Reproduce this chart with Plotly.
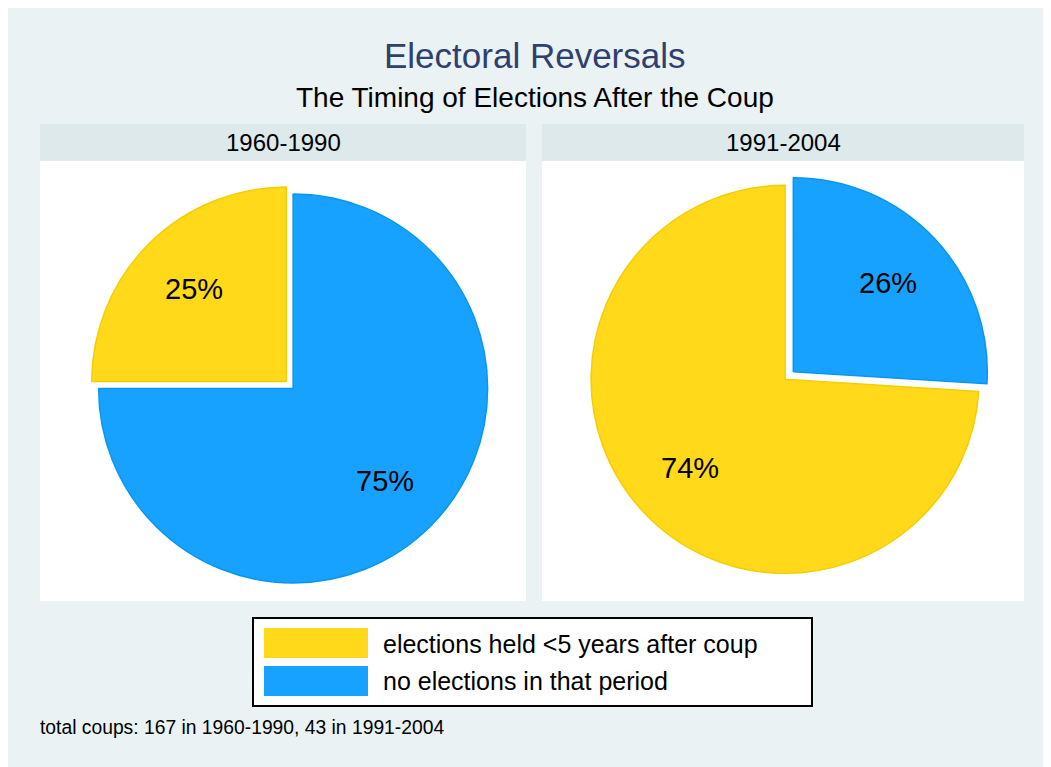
import numpy as np
import plotly.graph_objects as go

# ---- data ----
categories = ["elections held <5 years after coup", "no elections in that period"]
periods = ["1960-1990", "1991-2004"]
pct_1960_1990 = [25, 75]
pct_1991_2004 = [74, 26]
title_text = "Electoral Reversals"
subtitle_text = "The Timing of Elections After the Coup"
note_text = "total coups: 167 in 1960-1990, 43 in 1991-2004"

# ---- style / geometry (page pixels) ----
PAGE_OFF = 8                      # default body margin of the html page
W, H = 1051 - PAGE_OFF, 767 - PAGE_OFF
FONT = "Liberation Sans, Arial, Helvetica, sans-serif"
BG = "#EAF2F3"
STRIP = "#DDE9EB"
fills = ["#FFD91A", "#18A2FF"]
lines = ["#F5CE00", "#0A96F0"]


def px(x):
    return (x - PAGE_OFF) / W


def py(y):
    return 1 - (y - PAGE_OFF) / H


fig = go.Figure()

# (values, centre x, centre y, radius, pull)
pie_specs = [
    (pct_1960_1990, 289.7, 385.0, 194.5, 0.025),
    (pct_1991_2004, 789.2, 375.5, 194.0, 0.029),
]
annotations = []
for vals, cx, cy, r, pull in pie_specs:
    half = r * (1 + pull)
    frac = np.array(vals, dtype=float) / np.sum(vals)
    # first slice ends at 12 o'clock (it lies counter-clockwise from 12)
    rot = -float(frac[0]) * 360.0
    fig.add_trace(go.Pie(
        labels=categories,
        values=vals,
        sort=False,
        direction="clockwise",
        rotation=rot,
        pull=[pull, pull],
        marker=dict(colors=fills, line=dict(color=lines, width=1.5)),
        textinfo="none",
        hoverinfo="label+percent",
        showlegend=False,
        domain=dict(x=[px(cx - half), px(cx + half)], y=[py(cy + half), py(cy - half)]),
    ))
    # percentage labels along each slice's bisector (derived from the values)
    starts = rot + np.concatenate([[0.0], np.cumsum(frac)[:-1]]) * 360.0
    ends = starts + frac * 360.0
    mids = (starts + ends) / 2.0
    for v, m in zip(vals, mids):
        t = np.deg2rad(m)
        d = 0.67 * r + pull * r
        lx = cx + d * np.sin(t)
        ly = cy - d * np.cos(t)
        annotations.append(dict(text=f"{v}%", xref="paper", yref="paper", x=px(lx), y=py(ly),
                                showarrow=False, xanchor="center", yanchor="middle",
                                font=dict(family=FONT, size=29, color="black")))

shapes = [
    dict(type="rect", xref="paper", yref="paper", x0=0, x1=1, y0=0, y1=1,
         fillcolor=BG, line=dict(width=0), layer="below"),
]
panels = [(40, 526), (542, 1024)]
for (x0, x1), label in zip(panels, periods):
    shapes.append(dict(type="rect", xref="paper", yref="paper", x0=px(x0), x1=px(x1),
                       y0=py(601), y1=py(161), fillcolor="white", line=dict(width=0), layer="below"))
    shapes.append(dict(type="rect", xref="paper", yref="paper", x0=px(x0), x1=px(x1),
                       y0=py(161), y1=py(124), fillcolor=STRIP, line=dict(width=0), layer="below"))
    annotations.append(dict(text=label, xref="paper", yref="paper", x=px((x0 + x1) / 2), y=py(142),
                            showarrow=False, xanchor="center", yanchor="middle",
                            font=dict(family=FONT, size=24, color="black")))

# legend box
shapes.append(dict(type="rect", xref="paper", yref="paper", x0=px(253), x1=px(812),
                   y0=py(706), y1=py(618), fillcolor="white", line=dict(color="black", width=2),
                   layer="below"))
sw_rows = [(628, 658, 644), (666, 696, 681)]
for (t, b, c), col, lab in zip(sw_rows, fills, categories):
    shapes.append(dict(type="rect", xref="paper", yref="paper", x0=px(264), x1=px(368),
                       y0=py(b), y1=py(t), fillcolor=col, line=dict(width=0)))
    annotations.append(dict(text=lab, xref="paper", yref="paper", x=px(381), y=py(c),
                            showarrow=False, xanchor="left", yanchor="middle",
                            font=dict(family=FONT, size=25, color="black")))

annotations += [
    dict(text=title_text, xref="paper", yref="paper", x=px(535), y=py(55), showarrow=False,
         xanchor="center", yanchor="middle", font=dict(family=FONT, size=35, color="#2F3F6E")),
    dict(text=subtitle_text, xref="paper", yref="paper", x=px(535), y=py(98), showarrow=False,
         xanchor="center", yanchor="middle", font=dict(family=FONT, size=28, color="black")),
    dict(text=note_text, xref="paper", yref="paper", x=px(38), y=py(727), showarrow=False,
         xanchor="left", yanchor="middle", font=dict(family=FONT, size=19.3, color="black")),
]

fig.update_layout(
    width=W, height=H,
    margin=dict(l=0, r=0, t=0, b=0),
    paper_bgcolor=BG,
    plot_bgcolor="white",
    shapes=shapes,
    annotations=annotations,
    showlegend=False,
)

fig.write_html("out.html")
